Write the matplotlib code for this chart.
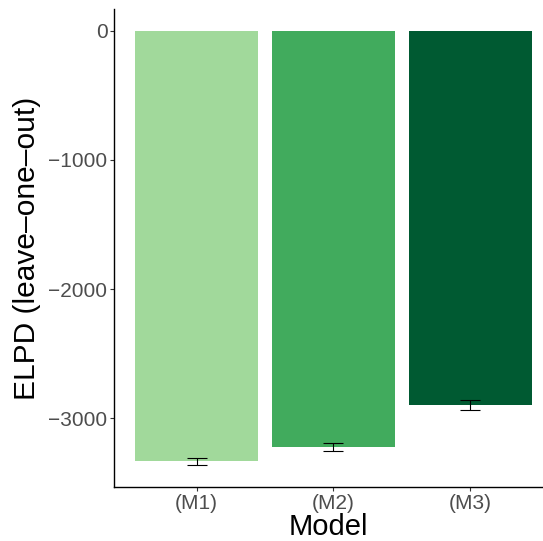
import numpy as np
import matplotlib
matplotlib.use("Agg")
import matplotlib.pyplot as plt

models = ["(M1)", "(M2)", "(M3)"]
elpd = [-3330, -3220, -2898]
elpd_se = [27, 32, 40]
bar_colors = ["#A1D99B", "#41AB5D", "#005A32"]
y_ticks = [0, -1000, -2000, -3000]

plt.rcParams["font.family"] = ["Liberation Sans", "DejaVu Sans"]

fig = plt.figure(figsize=(5.43, 5.41), dpi=100)
ax = fig.add_axes([114 / 543, 54 / 541, 429 / 543, 478 / 541])

x = np.arange(1, len(models) + 1)
ax.bar(x, elpd, width=0.9, color=bar_colors, zorder=2)
ax.errorbar(x, elpd, yerr=elpd_se, fmt="none", ecolor="black",
            elinewidth=0.8, capsize=7.4, capthick=0.8, zorder=3)

ax.set_xlim(0.395, 3.534)
ax.set_ylim(-3531, 168)
ax.set_xticks(x)
ax.set_xticklabels(models)
ax.set_yticks(y_ticks)

for side in ["top", "right"]:
    ax.spines[side].set_visible(False)
for side in ["left", "bottom"]:
    ax.spines[side].set_linewidth(1.0)
    ax.spines[side].set_color("black")

ax.tick_params(axis="both", length=2.75, width=0.8, color="#333333",
               labelsize=15, labelcolor="#4D4D4D", pad=2)

ax.set_xlabel("Model", fontsize=21, labelpad=0)
ax.set_ylabel("ELPD (leave\u2013one\u2013out)", fontsize=21.5, labelpad=5)

fig.savefig("out.png", dpi=100)
